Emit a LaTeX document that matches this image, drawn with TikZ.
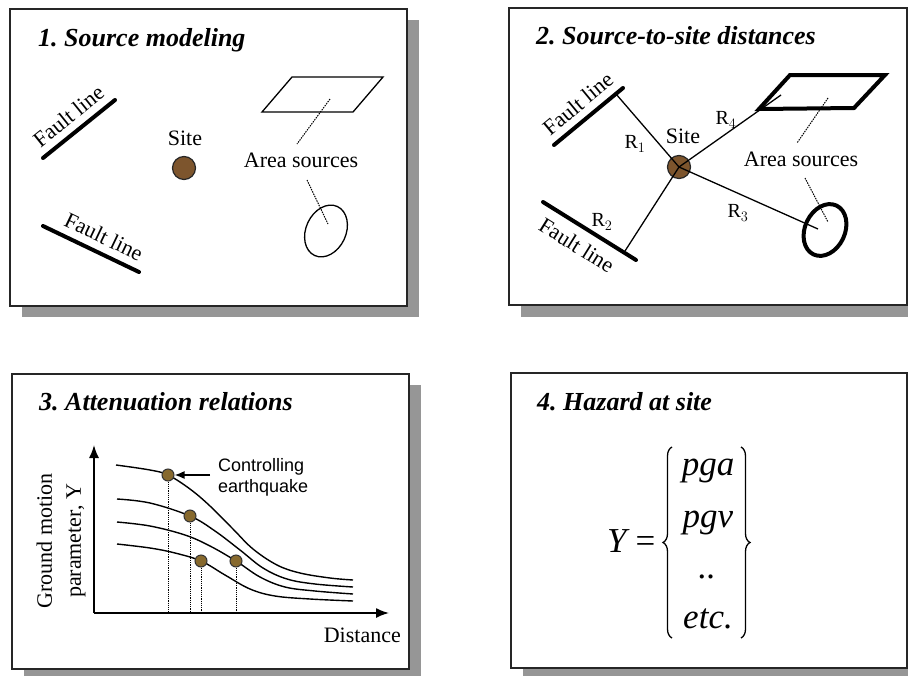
\documentclass[tikz,border=0pt]{standalone}
\usepackage{fontspec}
\setmainfont{Liberation Serif}
\newfontfamily\arialf{Liberation Sans}
\usetikzlibrary{arrows.meta,decorations.pathreplacing}
\definecolor{brownc}{RGB}{125,85,45}
\definecolor{olivec}{RGB}{135,105,45}
\definecolor{shadowc}{RGB}{150,150,150}
\begin{document}
\frenchspacing
\begin{tikzpicture}[x=1pt,y=-1pt,
  panel/.style={draw=black!85, line width=1.5pt, fill=white},
  shadebox/.style={fill=shadowc, draw=none},
  ttl/.style={font=\fontsize{26}{30}\selectfont\bfseries\itshape\frenchspacing, anchor=base west, inner sep=0},
  lbl/.style={font=\fontsize{22}{26}\selectfont, inner sep=0},
  rlbl/.style={font=\fontsize{20}{24}\selectfont, inner sep=0},
  fault/.style={line width=4pt, line cap=round},
  thinline/.style={line width=1.3pt},
  thickline/.style={line width=4pt, line join=miter},
  leader/.style={line width=1pt, dash pattern=on 1.5pt off 1pt},
  sitedot/.style={circle, draw=black!85, line width=1.2pt, fill=brownc, minimum size=23pt, inner sep=0},
  gdot/.style={circle, draw=black!80, line width=1pt, fill=olivec, minimum size=12pt, inner sep=0},
  curve/.style={line width=1.4pt},
  vdot/.style={line width=1pt, dash pattern=on 1.2pt off 1pt},
  axis/.style={line width=1.6pt, -{Latex[length=13pt,width=10pt]}},
  mth/.style={font=\fontsize{35}{40}\selectfont\itshape, inner sep=0, anchor=base},
  brc/.style={line width=1.3pt, decorate, decoration={brace, amplitude=9pt, aspect=0.5}}
]
\useasboundingbox (0,0) rectangle (908,675);
\clip (0,0) rectangle (908,675);
\fill[white] (0,0) rectangle (908,675);

% ---------- Panel 1 ----------
\fill[shadebox] (22,20) rectangle (419,317);
\draw[panel] (10,9) rectangle (407,306);
\node[ttl] (t1) at (38,46) {1. Source modeling};
\coordinate (f1a) at (43,158); \coordinate (f1b) at (115,100);
\draw[fault] (f1a) -- node[lbl, sloped, above=7pt, pos=0.5] (fl1) {Fault line} (f1b);
\coordinate (f2a) at (43,226); \coordinate (f2b) at (139,272);
\draw[fault] (f2a) -- node[lbl, sloped, above=7pt, pos=0.56] (fl2) {Fault line} (f2b);
\node[sitedot] (s1) at (184,168) {};
\node[lbl, anchor=base] (st1) at (185,145) {Site};
\draw[thinline, line join=miter] (262,112) -- (292,77) -- (383,77) -- (353,112) -- cycle;
\node[lbl, anchor=base] (as1) at (301,167) {Area sources};
\coordinate (l1a) at (330,99); \coordinate (l1b) at (297,144);
\draw[leader] (l1a) -- (l1b);
\coordinate (l2a) at (307,180); \coordinate (l2b) at (328,224);
\draw[leader] (l2a) -- (l2b);
\draw[thinline, rotate around={-25:(326,231)}] (326,231) ellipse [x radius=20pt, y radius=27pt];

% ---------- Panel 2 ----------
\fill[shadebox] (521,19) rectangle (920,317);
\draw[panel] (509,8) rectangle (907,305);
\node[ttl] (t2) at (536,44) {2. Source-to-site distances};
\coordinate (g1a) at (554,145); \coordinate (g1b) at (623,88);
\draw[fault] (g1a) -- node[lbl, sloped, above=7pt, pos=0.5] (fl3) {Fault line} (g1b);
\coordinate (g2a) at (543,202); \coordinate (g2b) at (636,260);
\draw[fault] (g2a) -- node[lbl, sloped, below=9pt, pos=0.47] (fl4) {Fault line} (g2b);
\node[sitedot] (s2) at (679,167) {};
\node[lbl, anchor=base] (st2) at (683,143) {Site};
\draw[thickline] (759,109) -- (790,75) -- (885,75) -- (854,108) -- cycle;
\draw[thickline, rotate around={-25:(825,230)}] (825,230) ellipse [x radius=20pt, y radius=27pt];
\node[lbl, anchor=base] (as2) at (801,166) {Area sources};
\coordinate (m1a) at (828,98); \coordinate (m1b) at (797,143);
\draw[leader] (m1a) -- (m1b);
\coordinate (m2a) at (805,178); \coordinate (m2b) at (828,222);
\draw[leader] (m2a) -- (m2b);
\coordinate (r1) at (616,94);
\coordinate (r2) at (625,251);
\coordinate (r3) at (818,229);
\coordinate (r4) at (781,95);
\draw[thinline] (s2.center) -- (r1);
\draw[thinline] (s2.center) -- (r2);
\draw[thinline] (s2.center) -- (r3);
\draw[thinline] (s2.center) -- (r4);
\node[rlbl] (R1) at (635,144) {R$_1$};
\node[rlbl] (R2) at (602,222) {R$_2$};
\node[rlbl] (R3) at (738,213) {R$_3$};
\node[rlbl] (R4) at (726,120) {R$_4$};

% ---------- Panel 3 ----------
\fill[shadebox] (24,385) rectangle (421,681);
\draw[panel] (12,374) rectangle (409,669);
\node[ttl] (t3) at (39,410) {3. Attenuation relations};
\coordinate (o) at (94,613);
\coordinate (ytop) at (94,445);
\coordinate (xend) at (389,613);
\draw[axis] (o) -- (ytop);
\draw[axis] (o) -- (xend);
\node[lbl, anchor=base east] (dist) at (401,642) {Distance};
\node[font=\fontsize{22}{29}\selectfont, align=center, rotate=90, inner sep=0] (ylab) at (61,541) {Ground motion\\parameter, Y};
\draw[curve] plot[smooth, tension=0.6] coordinates {(116,465) (150,470) (168,475) (190,489) (210,506) (233,529) (253,549) (277,565) (300,573) (330,578) (353,580)};
\draw[curve] plot[smooth, tension=0.6] coordinates {(117,499) (150,503) (190,516) (215,531) (240,550) (263,568) (287,579) (315,584) (353,587)};
\draw[curve] plot[smooth, tension=0.6] coordinates {(117,522) (150,526) (185,535) (210,546) (236,561) (260,577) (285,587) (315,591) (353,594)};
\draw[curve] plot[smooth, tension=0.6] coordinates {(117,544) (150,548) (175,553) (201,561) (225,575) (250,589) (275,596) (310,599) (353,601)};
\coordinate (b1) at (168,613); \coordinate (b2) at (190,613);
\coordinate (b3) at (201,613); \coordinate (b4) at (236,613);
\node[gdot] (d1) at (168,475) {};
\node[gdot] (d2) at (190,516) {};
\node[gdot] (d3) at (201,561) {};
\node[gdot] (d4) at (236,561) {};
\draw[vdot] (d1.south) -- (b1);
\draw[vdot] (d2.south) -- (b2);
\draw[vdot] (d3.south) -- (b3);
\draw[vdot] (d4.south) -- (b4);
\node[font=\fontsize{18}{21}\selectfont\arialf, align=left, anchor=north west, inner sep=0] (ctrl) at (218,458) {Controlling\\earthquake};
\coordinate (ca) at (210,475);
\draw[line width=1.6pt, -{Latex[length=10pt,width=8pt]}] (ca) -- (d1.east);

% ---------- Panel 4 ----------
\fill[shadebox] (523,384) rectangle (920,681);
\draw[panel] (511,373) rectangle (907,668);
\node[ttl] (t4) at (537,410) {4. Hazard at site};
\node[mth, anchor=base west] (Y) at (607,552) {Y\kern9pt{\upshape=}};
\coordinate (lbt) at (672,447); \coordinate (lbb) at (672,638);
\coordinate (rbt) at (741,447); \coordinate (rbb) at (741,638);
\draw[brc] (lbb) -- (lbt);
\draw[brc] (rbt) -- (rbb);
\node[mth] (e1) at (708,475) {pga};
\node[mth] (e2) at (708,527) {pgv};
\node[mth] (e3) at (707,578) {..};
\node[mth] (e4) at (708,628) {etc.};
\end{tikzpicture}
\end{document}
